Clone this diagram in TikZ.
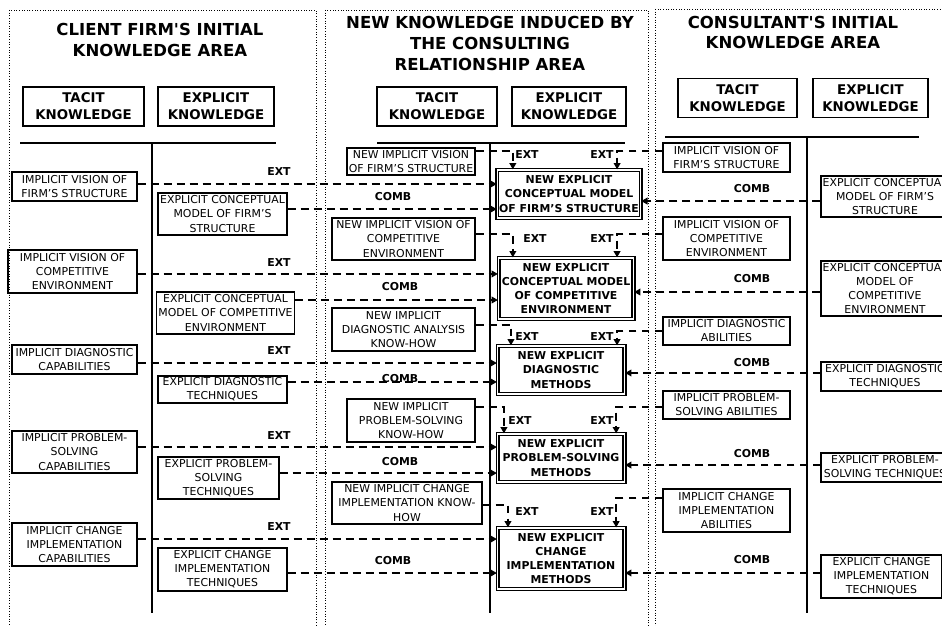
\documentclass[tikz,border=0pt]{standalone}
\usepackage{fontspec}
\setmainfont{DejaVu Sans}
\usetikzlibrary{arrows.meta}
\tikzset{
  box/.style={draw, line width=0.7pt, align=center, inner sep=1pt, font=\fontsize{6.2}{8}\selectfont},
  newbox/.style={draw, double, double distance=0.9pt, line width=0.7pt, align=center, inner sep=1pt, font=\fontsize{6.2}{8}\selectfont\bfseries},
  head/.style={draw, line width=0.7pt, align=center, font=\fontsize{7.6}{9.7}\selectfont\bfseries},
  areatitle/.style={align=center, font=\fontsize{9.4}{11.8}\selectfont\bfseries},
  lbl/.style={font=\fontsize{6.2}{8}\selectfont\bfseries, inner sep=0pt},
  conn/.style={line width=1.2pt, dash pattern=on 4.5pt off 2.9pt},
  arr/.style={conn, -{Triangle[length=3.6pt,width=3.8pt]}},
  area/.style={densely dotted, line width=0.5pt}
}
\begin{document}
\begin{tikzpicture}[x=0.02cm,y=-0.02cm]
\useasboundingbox (0,0) rectangle (942,625);
% areas
\draw[area] (9,10) rectangle (316,640);
\draw[area] (325,10) rectangle (648,640);
\draw[area] (655,9) rectangle (960,640);
\node[areatitle] (ltitle) at (160,40) {CLIENT FIRM\textquotesingle S INITIAL\\KNOWLEDGE AREA};
\node[areatitle] (mtitle) at (490,43.5) {NEW KNOWLEDGE INDUCED BY\\THE CONSULTING\\RELATIONSHIP AREA};
\node[areatitle] (rtitle) at (793,32.5) {CONSULTANT\textquotesingle S INITIAL\\KNOWLEDGE AREA};
% column heads
\node[head, minimum width=2.42cm, minimum height=0.74cm] (lh1) at (83.5,106.5) {TACIT\\KNOWLEDGE};
\node[head, minimum width=2.32cm, minimum height=0.74cm] (lh2) at (216,106.5) {EXPLICIT\\KNOWLEDGE};
\node[head, minimum width=2.4cm, minimum height=0.74cm] (mh1) at (437,106.5) {TACIT\\KNOWLEDGE};
\node[head, minimum width=2.28cm, minimum height=0.74cm] (mh2) at (569,106.5) {EXPLICIT\\KNOWLEDGE};
\node[head, minimum width=2.38cm, minimum height=0.72cm] (rh1) at (737.5,98) {TACIT\\KNOWLEDGE};
\node[head, minimum width=2.3cm, minimum height=0.72cm] (rh2) at (870.5,98) {EXPLICIT\\KNOWLEDGE};
\draw[line width=0.7pt] (20,143) -- (276,143) (152,143) -- (152,613);
\draw[line width=0.7pt] (377,143) -- (625,143) (490,143) -- (490,613);
\draw[line width=0.7pt] (665,137) -- (919,137) (807,137) -- (807,613);
% client firm
\node[box, minimum width=2.5cm, minimum height=0.58cm] (lt1) at (74.5,186.5) {IMPLICIT VISION OF\\FIRM'S STRUCTURE};
\node[box, minimum width=2.58cm, minimum height=0.86cm] (lt2) at (72.5,271.5) {IMPLICIT VISION OF\\COMPETITIVE\\ENVIRONMENT};
\node[box, minimum width=2.5cm, minimum height=0.58cm] (lt3) at (74.5,359.5) {IMPLICIT DIAGNOSTIC\\CAPABILITIES};
\node[box, minimum width=2.5cm, minimum height=0.84cm] (lt4) at (74.5,452) {IMPLICIT PROBLEM-\\SOLVING\\CAPABILITIES};
\node[box, minimum width=2.5cm, minimum height=0.86cm] (lt5) at (74.5,544.5) {IMPLICIT CHANGE\\IMPLEMENTATION\\CAPABILITIES};
\node[box, minimum width=2.58cm, minimum height=0.84cm] (le1) at (222.5,214) {EXPLICIT CONCEPTUAL\\MODEL OF FIRM'S\\STRUCTURE};
\node[box, minimum width=2.7cm, minimum height=0.84cm] (le2) at (225.5,313) {EXPLICIT CONCEPTUAL\\MODEL OF COMPETITIVE\\ENVIRONMENT};
\node[box, minimum width=2.58cm, minimum height=0.54cm] (le3) at (222.5,389.5) {EXPLICIT DIAGNOSTIC\\TECHNIQUES};
\node[box, minimum width=2.42cm, minimum height=0.84cm] (le4) at (218.5,478) {EXPLICIT PROBLEM-\\SOLVING\\TECHNIQUES};
\node[box, minimum width=2.58cm, minimum height=0.86cm] (le5) at (222.5,569.5) {EXPLICIT CHANGE\\IMPLEMENTATION\\TECHNIQUES};
% new knowledge
\node[box, minimum width=2.56cm, minimum height=0.54cm] (mt1) at (411,161.5) {NEW IMPLICIT VISION\\OF FIRM'S STRUCTURE};
\node[box, minimum width=2.86cm, minimum height=0.84cm] (mt2) at (403.5,239) {NEW IMPLICIT VISION OF\\COMPETITIVE\\ENVIRONMENT};
\node[box, minimum width=2.86cm, minimum height=0.86cm] (mt3) at (403.5,329.5) {NEW IMPLICIT\\DIAGNOSTIC ANALYSIS\\KNOW-HOW};
\node[box, minimum width=2.56cm, minimum height=0.86cm] (mt4) at (411,420.5) {NEW IMPLICIT\\PROBLEM-SOLVING\\KNOW-HOW};
\node[box, minimum width=3cm, minimum height=0.84cm] (mt5) at (407,503) {NEW IMPLICIT CHANGE\\IMPLEMENTATION KNOW-\\HOW};
\node[newbox, minimum width=2.86cm, minimum height=0.96cm] (me1) at (569,194) {NEW EXPLICIT\\CONCEPTUAL MODEL\\OF FIRM'S STRUCTURE};
\node[newbox, minimum width=2.7cm, minimum height=1.22cm] (me2) at (566,288.5) {NEW EXPLICIT\\CONCEPTUAL MODEL\\OF COMPETITIVE\\ENVIRONMENT};
\node[newbox, minimum width=2.54cm, minimum height=0.96cm] (me3) at (561,370) {NEW EXPLICIT\\DIAGNOSTIC\\METHODS};
\node[newbox, minimum width=2.54cm, minimum height=0.96cm] (me4) at (561,458) {NEW EXPLICIT\\PROBLEM-SOLVING\\METHODS};
\node[newbox, minimum width=2.54cm, minimum height=1.22cm] (me5) at (561,558.5) {NEW EXPLICIT\\CHANGE\\IMPLEMENTATION\\METHODS};
% consultant
\node[box, minimum width=2.54cm, minimum height=0.58cm] (rt1) at (726.5,157.5) {IMPLICIT VISION OF\\FIRM'S STRUCTURE};
\node[box, minimum width=2.54cm, minimum height=0.86cm] (rt2) at (726.5,238.5) {IMPLICIT VISION OF\\COMPETITIVE\\ENVIRONMENT};
\node[box, minimum width=2.54cm, minimum height=0.56cm] (rt3) at (726.5,331) {IMPLICIT DIAGNOSTIC\\ABILITIES};
\node[box, minimum width=2.54cm, minimum height=0.56cm] (rt4) at (726.5,405) {IMPLICIT PROBLEM-\\SOLVING ABILITIES};
\node[box, minimum width=2.54cm, minimum height=0.86cm] (rt5) at (726.5,510.5) {IMPLICIT CHANGE\\IMPLEMENTATION\\ABILITIES};
\node[box, minimum width=2.56cm, minimum height=0.82cm] (re1) at (885,196.5) {EXPLICIT CONCEPTUAL\\MODEL OF FIRM'S\\STRUCTURE};
\node[box, minimum width=2.56cm, minimum height=1.1cm] (re2) at (885,288.5) {EXPLICIT CONCEPTUAL\\MODEL OF\\COMPETITIVE\\ENVIRONMENT};
\node[box, minimum width=2.56cm, minimum height=0.58cm] (re3) at (885,376.5) {EXPLICIT DIAGNOSTIC\\TECHNIQUES};
\node[box, minimum width=2.56cm, minimum height=0.58cm] (re4) at (885,467.5) {EXPLICIT PROBLEM-\\SOLVING TECHNIQUES};
\node[box, minimum width=2.42cm, minimum height=0.86cm] (re5) at (881.5,576.5) {EXPLICIT CHANGE\\IMPLEMENTATION\\TECHNIQUES};
% EXT from client
\draw[arr] ([yshift=1.4pt]lt1.east) -- ([yshift=1.4pt]lt1.east -| me1.west);
\draw[arr] ([yshift=-1.4pt]lt2.east) -- ([yshift=-1.4pt]lt2.east -| me2.west);
\draw[arr] ([yshift=-2pt]lt3.east) -- ([yshift=-2pt]lt3.east -| me3.west);
\draw[arr] ([yshift=2.8pt]lt4.east) -- ([yshift=2.8pt]lt4.east -| me4.west);
\draw[arr] ([yshift=3.1pt]lt5.east) -- ([yshift=3.1pt]lt5.east -| me5.west);
% COMB from client
\draw[arr] ([yshift=2.8pt]le1.east) -- ([yshift=2.8pt]le1.east -| me1.west);
\draw[arr] ([yshift=7.4pt]le2.east) -- ([yshift=7.4pt]le2.east -| me2.west);
\draw[arr] ([yshift=4.3pt]le3.east) -- ([yshift=4.3pt]le3.east -| me3.west);
\draw[arr] ([yshift=2.8pt]le4.east) -- ([yshift=2.8pt]le4.east -| me4.west);
\draw[arr] ([yshift=-2pt]le5.east) -- ([yshift=-2pt]le5.east -| me5.west);
% EXT inside new area
\draw[arr] ([yshift=6pt]mt1.east) -| ([xshift=9.1pt]me1.north west);
\draw[arr] ([yshift=2.8pt]mt2.east) -| ([xshift=8.5pt]me2.north west);
\draw[arr] ([yshift=2.6pt]mt3.east) -| ([xshift=8pt]me3.north west);
\draw[arr] ([yshift=7.7pt]mt4.east) -| ([xshift=4pt]me4.north west);
\draw[arr] ([yshift=-1.1pt]mt5.east) -| ([xshift=6.3pt]me5.north west);
% EXT from consultant
\draw[arr] ([yshift=3.7pt]rt1.west) -| ([xshift=-13.7pt]me1.north east);
\draw[arr] ([yshift=2.6pt]rt2.west) -| ([xshift=-9.7pt]me2.north east);
\draw[arr] (rt3.west) -| ([xshift=-4.6pt]me3.north east);
\draw[arr] ([yshift=-1.1pt]rt4.west) -| ([xshift=-5.1pt]me4.north east);
\draw[arr] ([yshift=7.1pt]rt5.west) -| ([xshift=-5.1pt]me5.north east);
% COMB from consultant
\draw[arr] ([yshift=-2.6pt]re1.west) -- ([yshift=-2.6pt]re1.west -| me1.east);
\draw[arr] ([yshift=-2pt]re2.west) -- ([yshift=-2pt]re2.west -| me2.east);
\draw[arr] ([yshift=2pt]re3.west) -- ([yshift=2pt]re3.west -| me3.east);
\draw[arr] ([yshift=1.4pt]re4.west) -- ([yshift=1.4pt]re4.west -| me4.east);
\draw[arr] ([yshift=2pt]re5.west) -- ([yshift=2pt]re5.west -| me5.east);
% labels
\node[lbl] (lext1) at (279,172) {EXT};
\node[lbl] (lext2) at (279,263) {EXT};
\node[lbl] (lext3) at (279,351) {EXT};
\node[lbl] (lext4) at (279,436) {EXT};
\node[lbl] (lext5) at (279,527) {EXT};
\node[lbl] (lcomb1) at (393,197) {COMB};
\node[lbl] (lcomb2) at (400,287) {COMB};
\node[lbl] (lcomb3) at (400,379) {COMB};
\node[lbl] (lcomb4) at (400,462) {COMB};
\node[lbl] (lcomb5) at (393,561) {COMB};
\node[lbl] (mext1) at (527,155) {EXT};
\node[lbl] (mext2) at (535,239) {EXT};
\node[lbl] (mext3) at (527,337) {EXT};
\node[lbl] (mext4) at (520,421) {EXT};
\node[lbl] (mext5) at (527,512) {EXT};
\node[lbl] (rext1) at (602,155) {EXT};
\node[lbl] (rext2) at (602,239) {EXT};
\node[lbl] (rext3) at (602,337) {EXT};
\node[lbl] (rext4) at (602,421) {EXT};
\node[lbl] (rext5) at (602,512) {EXT};
\node[lbl] (rcomb1) at (752,189) {COMB};
\node[lbl] (rcomb2) at (752,279) {COMB};
\node[lbl] (rcomb3) at (752,363) {COMB};
\node[lbl] (rcomb4) at (752,454) {COMB};
\node[lbl] (rcomb5) at (752,560) {COMB};
\end{tikzpicture}
\end{document}
